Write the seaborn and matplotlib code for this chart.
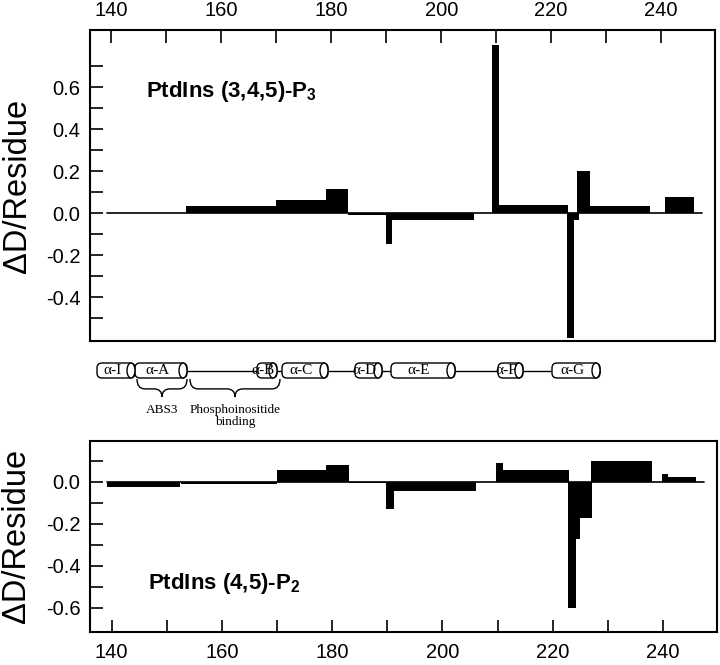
import numpy as np
import pandas as pd
import seaborn as sns
import matplotlib.pyplot as plt
from matplotlib.patches import FancyBboxPatch, Ellipse, PathPatch
from matplotlib.path import Path

# PtdIns(3,4,5)-P3 panel: residue ranges and deuteration change per residue
p3_start = [153.5, 170.0, 179.0, 183.0, 190.0, 191.0, 209.2, 210.6, 222.8, 224.2, 224.7, 227.1, 240.7]
p3_end = [170.0, 179.0, 183.0, 190.0, 191.0, 206.0, 210.6, 223.0, 224.2, 225.0, 227.1, 238.0, 245.9]
p3_value = [0.035, 0.065, 0.115, -0.008, -0.148, -0.032, 0.80, 0.04, -0.595, -0.032, 0.20, 0.035, 0.078]

# PtdIns(4,5)-P2 panel
p2_start = [139.2, 152.6, 170.1, 178.9, 183.0, 189.8, 191.3, 209.8, 211.0, 222.8, 224.2, 225.0, 227.0, 239.8, 241.0]
p2_end = [152.5, 170.1, 178.9, 183.0, 189.8, 191.3, 206.1, 211.0, 222.9, 224.2, 225.0, 227.1, 238.0, 241.0, 246.0]
p2_value = [-0.022, -0.008, 0.059, 0.083, -0.004, -0.127, -0.045, 0.092, 0.055, -0.60, -0.27, -0.17, 0.10, 0.036, 0.022]

baseline_range = [139.2, 247.4]

# secondary structure schematic (drawn in pixel units of the figure)
helix_names = ['α-I', 'α-A', 'α-B', 'α-C', 'α-D', 'α-E', 'α-F', 'α-G']
helix_left = [97, 135, 257, 282, 355, 391, 498, 552]
helix_right = [135, 187, 277, 328, 382, 455, 523, 600]
brace_labels = ['ABS3', 'Phosphoinositide\nbinding']
brace_left = [137, 190]
brace_right = [187, 280]

sns.set_theme(style='ticks')
plt.rcParams['font.family'] = ['Liberation Sans', 'DejaVu Sans']
plt.rcParams['text.color'] = 'black'
plt.rcParams['axes.labelcolor'] = 'black'
plt.rcParams['mathtext.fontset'] = 'custom'
plt.rcParams['mathtext.rm'] = 'Liberation Sans:bold'
plt.rcParams['mathtext.it'] = 'Liberation Sans:bold'
plt.rcParams['mathtext.bf'] = 'Liberation Sans:bold'

fig = plt.figure(figsize=(7.2, 6.65), dpi=100)
XLIM = (136.1, 249.8)


def draw_panel(ax, start, end, value):
    df = pd.DataFrame({'start': start, 'end': end, 'value': value})
    df['width'] = df['end'] - df['start']
    ax.bar(df['start'], df['value'], width=df['width'], align='edge',
           color='black', edgecolor='none', linewidth=0, zorder=3)
    ax.plot(baseline_range, [0, 0], color='black', lw=1.2, zorder=2)
    ax.set_xlim(*XLIM)
    ax.set_xticks(np.arange(140, 241, 20))
    ax.set_xticks(np.arange(150, 250, 20), minor=True)
    for s in ax.spines.values():
        s.set_linewidth(1.5)
        s.set_color('black')
    ax.tick_params(which='both', direction='in', length=9, width=1.2,
                   colors='black', labelsize=14.5)
    ax.set_ylabel('ΔD/Residue', fontsize=23.5)
    ax.yaxis.set_label_coords(-0.092, 0.5)


# top panel
ax1 = fig.add_axes([0.125, 0.4872, 0.868, 0.4677])
draw_panel(ax1, p3_start, p3_end, p3_value)
ax1.set_ylim(-0.608, 0.873)
ax1.set_yticks([-0.4, -0.2, 0.0, 0.2, 0.4, 0.6])
ax1.set_yticks([-0.5, -0.3, -0.1, 0.1, 0.3, 0.5, 0.7], minor=True)
ax1.set_yticklabels(['-0.4', '-0.2', '0.0', '0.2', '0.4', '0.6'])
ax1.xaxis.tick_top()
ax1.tick_params(axis='x', which='both', top=True, bottom=False, pad=7)
ax1.tick_params(axis='y', which='both', left=True, right=False, pad=7)
ax1.text(146.2, 0.555, r'PtdIns (3,4,5)-P$_3$', fontsize=16, fontweight='bold')

# bottom panel
ax2 = fig.add_axes([0.125, 0.05, 0.8708, 0.2868])
draw_panel(ax2, p2_start, p2_end, p2_value)
ax2.set_ylim(-0.714, 0.195)
ax2.set_yticks([-0.6, -0.4, -0.2, 0.0])
ax2.set_yticks([-0.5, -0.3, -0.1, 0.1], minor=True)
ax2.set_yticklabels(['-0.6', '-0.4', '-0.2', '0.0'])
ax2.tick_params(axis='x', which='both', top=False, bottom=True, pad=8)
ax2.tick_params(axis='y', which='both', left=True, right=False, pad=7)
ax2.text(146.7, -0.512, r'PtdIns (4,5)-P$_2$', fontsize=16, fontweight='bold')

# helix schematic
axd = fig.add_axes([0, 0, 1, 1], zorder=-1)
axd.set_xlim(0, 720)
axd.set_ylim(665, 0)
axd.axis('off')
yc, h, cap = 370.5, 15, 8
axd.plot([helix_left[0], helix_right[-1]], [yc, yc], color='black', lw=1, zorder=1)
serif = ['Liberation Serif', 'DejaVu Serif']
for name, x0, x1 in zip(helix_names, helix_left, helix_right):
    body = FancyBboxPatch((x0, yc - h / 2), x1 - x0, h,
                          boxstyle='round,pad=0,rounding_size=5',
                          fc='white', ec='black', lw=1, zorder=2)
    axd.add_patch(body)
    axd.add_patch(Ellipse((x1 - cap / 2, yc), cap, h, fc='white', ec='black', lw=1, zorder=3))
    axd.text((x0 + x1 - cap) / 2, yc + 0.5, name, ha='center', va='center',
             fontsize=11, family=serif, zorder=4)


def brace(ax, x0, x1, ytop, depth):
    xm = (x0 + x1) / 2
    ymid = ytop + depth * 0.55
    r = min(8, (x1 - x0) / 6)
    verts = [(x0, ytop), (x0, ymid), (x0 + r, ymid),
             (xm - r, ymid), (xm, ymid), (xm, ytop + depth),
             (xm, ymid), (xm + r, ymid),
             (x1 - r, ymid), (x1, ymid), (x1, ytop)]
    codes = [Path.MOVETO, Path.CURVE3, Path.CURVE3,
             Path.LINETO, Path.CURVE3, Path.CURVE3,
             Path.CURVE3, Path.CURVE3,
             Path.LINETO, Path.CURVE3, Path.CURVE3]
    ax.add_patch(PathPatch(Path(verts, codes), fc='none', ec='black', lw=1))


for label, x0, x1 in zip(brace_labels, brace_left, brace_right):
    brace(axd, x0, x1, 379, 18)
    axd.text((x0 + x1) / 2, 404, label, ha='center', va='top',
             fontsize=9.5, family=serif, linespacing=1.05)

fig.savefig('out.png', dpi=100)
